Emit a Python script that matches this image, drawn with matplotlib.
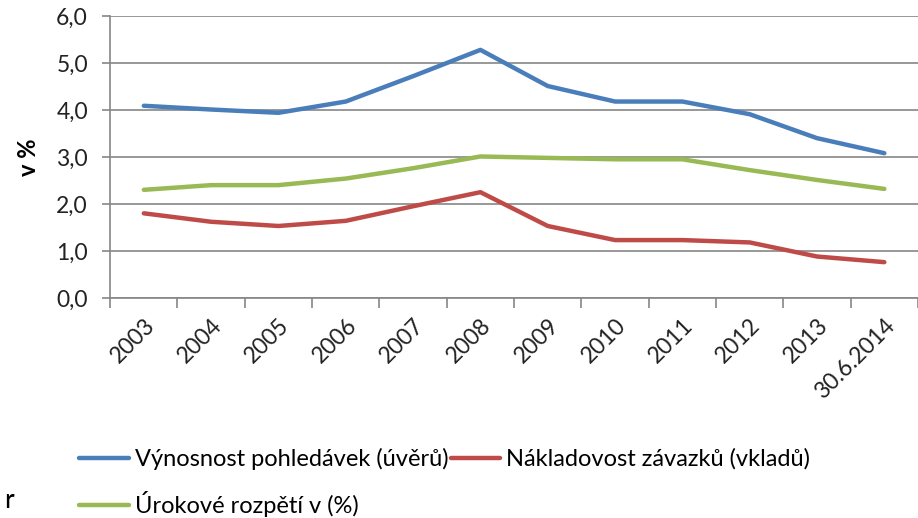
import numpy as np
import matplotlib.pyplot as plt
from matplotlib.ticker import FixedLocator, NullFormatter

plt.rcParams['font.family'] = ['Lato', 'DejaVu Sans']

# Data
years = ['2003', '2004', '2005', '2006', '2007', '2008', '2009',
         '2010', '2011', '2012', '2013', '30.6.2014']
vynosnost = [4.09, 4.01, 3.94, 4.18, 4.72, 5.28, 4.51, 4.18, 4.18, 3.91, 3.40, 3.08]
nakladovost = [1.80, 1.62, 1.53, 1.64, 1.95, 2.25, 1.53, 1.23, 1.23, 1.18, 0.88, 0.76]
rozpeti = [2.30, 2.40, 2.40, 2.54, 2.76, 3.01, 2.98, 2.95, 2.95, 2.72, 2.51, 2.32]

labels = ['Výnosnost pohledávek (úvěrů)', 'Nákladovost závazků (vkladů)',
          'Úrokové rozpětí v (%)']
colors = ['#4a7ebb', '#be4b48', '#98b954']

fig = plt.figure(figsize=(9.18, 5.18), dpi=100)
ax = fig.add_axes([0.12, 0.425, 0.88, 0.544])

x = np.arange(len(years))
l1, = ax.plot(x, vynosnost, color=colors[0], lw=3.2, solid_capstyle='round')
l2, = ax.plot(x, nakladovost, color=colors[1], lw=3.2, solid_capstyle='round')
l3, = ax.plot(x, rozpeti, color=colors[2], lw=3.2, solid_capstyle='round')

ax.set_xlim(-0.5, len(years) - 0.5)
ax.set_ylim(0, 6)
ax.set_yticks(np.arange(0, 7, 1))
ax.set_yticklabels([f'{v:.1f}'.replace('.', ',') for v in range(7)], fontsize=16.5, color='#222222')

# category labels centred, tick marks on the boundaries
ax.set_xticks(x)
ax.set_xticklabels(years, rotation=45, ha='right', va='top', rotation_mode='anchor',
                   fontsize=16.5, color='#222222')
ax.tick_params(axis='x', which='major', length=0, pad=12)
ax.xaxis.set_minor_locator(FixedLocator(np.arange(-0.5, len(years), 1)))
ax.xaxis.set_minor_formatter(NullFormatter())
ax.tick_params(axis='x', which='minor', length=7, color='#868686', width=1.2)
ax.tick_params(axis='y', length=6, color='#868686', width=1.2, pad=10)

ax.grid(axis='y', color='#868686', lw=1.2)
ax.set_axisbelow(True)
for s in ['top', 'right']:
    ax.spines[s].set_visible(False)
for s in ['left', 'bottom']:
    ax.spines[s].set_color('#868686')
    ax.spines[s].set_linewidth(1.2)

ax.set_ylabel('v %', fontsize=17, fontweight='bold', labelpad=12)

# legend: first row two entries, second row one (column-wise fill)
fig.legend([l1, l3, l2], [labels[0], labels[2], labels[1]], ncol=2,
           loc='upper left', bbox_to_anchor=(0.076, 0.154), frameon=False,
           fontsize=17, handlelength=2.1, handletextpad=0.25, columnspacing=0.1,
           labelspacing=0.9, borderaxespad=0)

fig.text(0.004, 0.02, 'r', fontsize=19)

fig.savefig('out.png', dpi=100)
